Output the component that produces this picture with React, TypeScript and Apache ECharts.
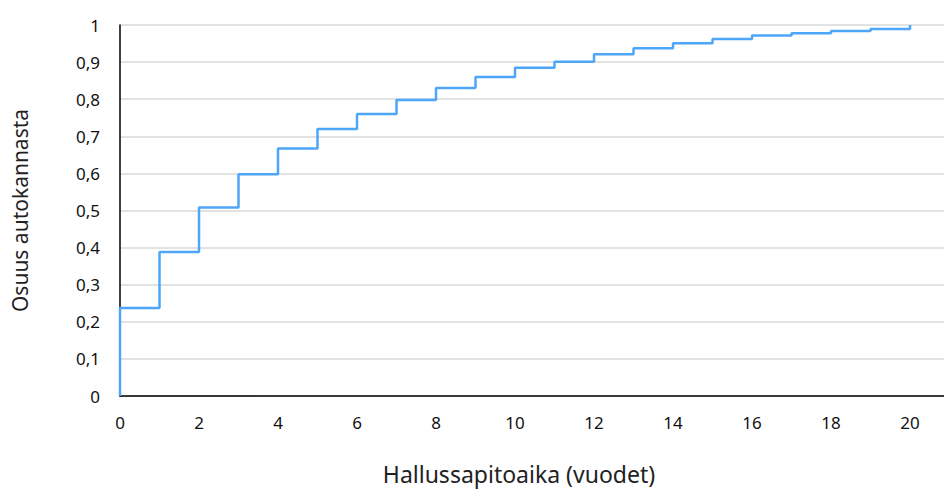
import React, { useEffect, useRef } from "react";
import * as echarts from "echarts";

const years = [0, 0, 1, 2, 3, 4, 5, 6, 7, 8, 9, 10, 11, 12, 13, 14, 15, 16, 17, 18, 19, 20];
const shares = [0, 0.237, 0.388, 0.508, 0.598, 0.667, 0.72, 0.76, 0.798, 0.83, 0.86, 0.885, 0.901, 0.921, 0.937, 0.951, 0.962, 0.972, 0.978, 0.984, 0.989, 1.0];
const xTitle = "Hallussapitoaika (vuodet)";
const yTitle = "Osuus autokannasta";

export default function App() {
  const ref = useRef<HTMLDivElement>(null);
  useEffect(() => {
    if (!ref.current) return;
    const chart = echarts.init(ref.current, null, { renderer: "svg" });
    const font = "Noto Sans";
    chart.setOption({
      animation: false,
      grid: { left: 120, right: 0, top: 25, bottom: 92, containLabel: false },
      xAxis: {
        type: "value",
        min: 0,
        max: 20.86,
        interval: 2,
        name: xTitle,
        nameLocation: "middle",
        nameGap: 66,
        nameTextStyle: { fontFamily: font, fontSize: 23, color: "#222", padding: [0, 26, 0, 0] },
        axisLine: { show: true, lineStyle: { color: "#000", width: 1.5 } },
        axisTick: { show: false },
        splitLine: { show: false },
        axisLabel: { fontFamily: font, fontSize: 17, color: "#111", margin: 18, showMaxLabel: false },
      },
      yAxis: {
        type: "value",
        min: 0,
        max: 1,
        interval: 0.1,
        name: yTitle,
        nameLocation: "middle",
        nameGap: 90,
        nameTextStyle: { fontFamily: font, fontSize: 21, color: "#222" },
        axisLine: { show: true, lineStyle: { color: "#000", width: 1.5 } },
        axisTick: { show: false },
        splitLine: { show: true, lineStyle: { color: "#d9d9d9", width: 1.5 } },
        axisLabel: {
          fontFamily: font,
          fontSize: 17,
          color: "#111",
          margin: 20,
          formatter: (v: number) => String(Math.round(v * 10) / 10).replace(".", ","),
        },
      },
      series: [
        {
          type: "line",
          step: "end",
          data: years.map((x, i) => [x, shares[i]]),
          showSymbol: false,
          lineStyle: { color: "#4da6f8", width: 2.5 },
          itemStyle: { color: "#4da6f8" },
        },
      ],
    });
    return () => chart.dispose();
  }, []);
  return <div ref={ref} style={{ width: 944, height: 490, position: "absolute", left: 0, top: 0 }} />;
}
